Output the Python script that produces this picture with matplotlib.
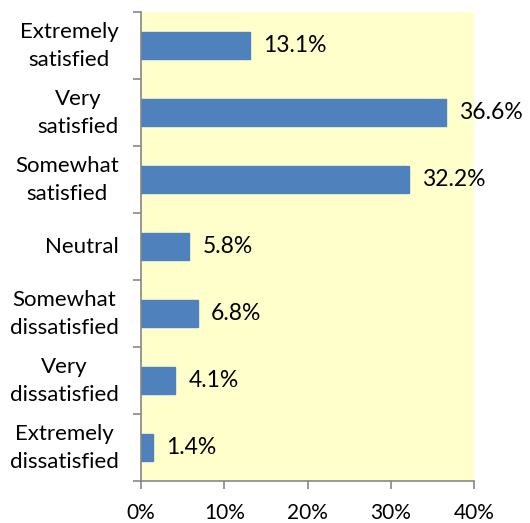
import matplotlib
matplotlib.use("Agg")
import matplotlib.pyplot as plt
from matplotlib.ticker import FixedLocator, PercentFormatter

plt.rcParams['font.family'] = ['Lato', 'DejaVu Sans']

categories = ['Extremely\nsatisfied', 'Very\nsatisfied', 'Somewhat\nsatisfied', 'Neutral',
              'Somewhat\ndissatisfied', 'Very\ndissatisfied', 'Extremely\ndissatisfied']
values = [13.1, 36.6, 32.2, 5.8, 6.8, 4.1, 1.4]

fig = plt.figure(figsize=(5.30, 5.23), dpi=100)
ax = fig.add_axes([141 / 530, 1 - 481 / 523, 333 / 530, 469 / 523])
ax.set_facecolor('#FFFFCC')

pos = list(range(len(categories)))
bars = ax.barh(pos, values, height=0.4, color='#4F81BD', edgecolor='#4F81BD')
ax.set_ylim(len(categories) - 0.5, -0.5)
ax.set_xlim(0, 40)

for b, v in zip(bars, values):
    ax.text(v + 1.6, b.get_y() + b.get_height() / 2, f'{v:.1f}%',
            va='center', ha='left', fontsize=16.5, clip_on=False)

ax.set_xticks([0, 10, 20, 30, 40])
ax.xaxis.set_major_formatter(PercentFormatter(decimals=0))
ax.set_yticks(pos)
ax.set_yticklabels(categories, multialignment='center', ha='right', va='center', linespacing=1.5)
ax.yaxis.set_minor_locator(FixedLocator([p - 0.5 for p in pos] + [len(pos) - 0.5]))
ax.tick_params(axis='y', which='major', length=0, pad=16, labelsize=16)
ax.tick_params(axis='y', which='minor', length=6, color='#868686', width=1.2)
ax.tick_params(axis='x', length=6, color='#868686', width=1.2, labelsize=15, pad=10)

for s in ['top', 'right']:
    ax.spines[s].set_visible(False)
for s in ['left', 'bottom']:
    ax.spines[s].set_color('#868686')
    ax.spines[s].set_linewidth(1.2)

fig.savefig('out.png', dpi=100)
